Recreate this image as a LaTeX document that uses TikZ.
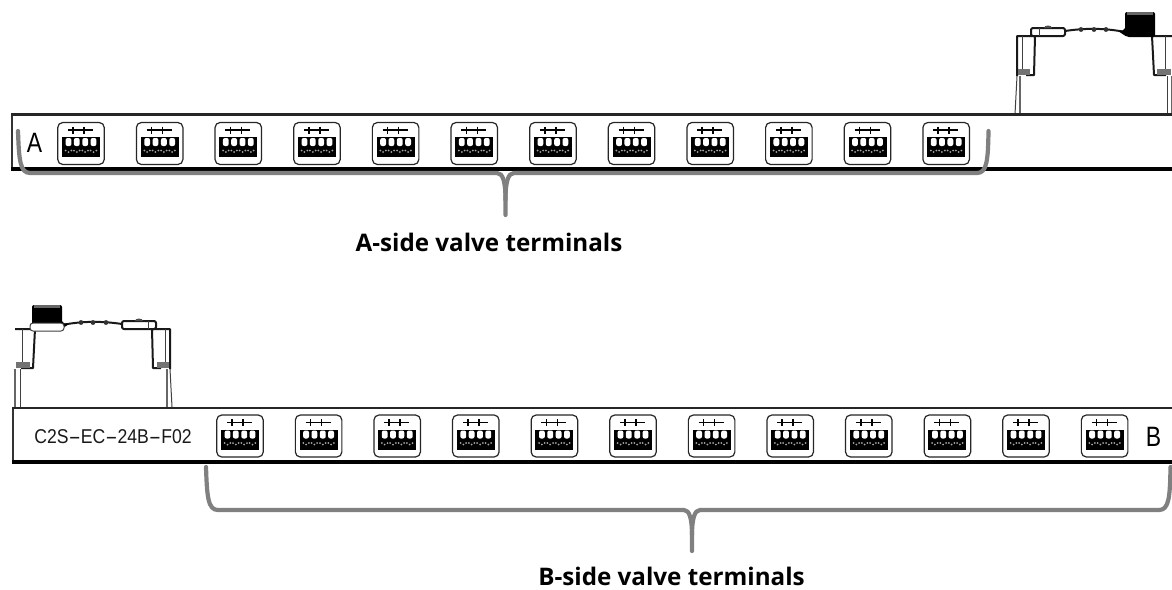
\documentclass[tikz,border=0pt]{standalone}
\usepackage{fontspec}
\setmainfont{Open Sans}
\newfontfamily\sidefont[FakeStretch=0.82]{Liberation Sans}
\newfontfamily\partfont[FakeStretch=0.88]{Liberation Sans}
\usetikzlibrary{positioning}
\definecolor{bracegray}{RGB}{128,128,128}
\newcommand{\longdash}{\scalebox{2.1}[1]{-}}
\tikzset{
    railline/.style = {line width=2.4pt, draw=black!85},
    railbase/.style = {line width=3.4pt, draw=black},
    railedge/.style = {line width=1.2pt, draw=black!80},
    termbox/.style = {draw=black!85, line width=1.2pt, rounded corners=5pt, fill=white, minimum width=46.5pt, minimum height=42pt, inner sep=0pt},
    brace/.style = {draw=bracegray, line width=4.2pt, line cap=round},
    sidetext/.style = {font=\fontsize{24.2}{29}\selectfont\bfseries, text=black, inner sep=0pt},
    railtext/.style = {font=\fontsize{28}{33}\selectfont\sidefont, text=black, inner sep=0pt},
    parttext/.style = {font=\fontsize{20}{24}\selectfont\partfont, text=black!90, inner sep=0pt},
    modline/.style = {draw=black!90, line width=2pt, line join=round},
    modthin/.style = {draw=black!75, line width=1pt},
    modgray/.style = {draw=black!60, line width=1.2pt},
    termglyph/.pic = {
        \draw[black, line width=1.5pt] (-13,-13.5) -- (12,-13.5);
        \draw[black, line width=1.5pt] (-8,-17) -- (-8,-10) (3,-17) -- (3,-10);
        \fill[black] (-19,-6.5) rectangle (19,13.5);
        \foreach \k in {-12.5,-4.2,4.2,12.5} {
            \fill[white, rounded corners=2pt] (\k-2.9,-5.5) rectangle (\k+2.9,2.5);
            \fill[white!65!black] (\k-2.8,7) circle (1pt) (\k,8.5) circle (1pt) (\k+2.8,7) circle (1pt);
        }
    },
    railmodule/.pic = {
        % feet
        \draw[modthin] (1015,114) -- (1017,76);
        \draw[modgray] (1020,114) -- (1020,76);
        \draw[modthin] (1167,114) -- (1167,76);
        \draw[modgray] (1172,114) -- (1172,76);
        % brackets
        \draw[modline] (1017,76) -- (1017,36) -- (1035,36) -- (1034,75) -- (1026,75);
        \draw[modthin] (1022,36) -- (1022,70);
        \draw[modline] (1172,36) -- (1152,36) -- (1154,75) -- (1166,75);
        \draw[modthin] (1165,36) -- (1165,70);
        \fill[black!55] (1018,69) rectangle (1030,75);
        \fill[black!55] (1157,69) rectangle (1171,75);
        % connector and cable
        \draw[modline, fill=white, rounded corners=2pt] (1031,28) rectangle (1065,36);
        \draw[modthin] (1039,28) -- (1039,36);
        \fill[black!70] (1044,28) arc (180:0:4pt and 2.5pt) -- cycle;
        \draw[modline] (1065,31) .. controls (1085,28) and (1105,28) .. (1125,32);
        \foreach \k in {1081,1094,1106} {
            \fill[black!80] (\k,29.5) circle (2.4pt);
        }
        % plug
        \fill[black, rounded corners=2pt] (1118,31) -- (1125,30) -- (1125,12) -- (1155,12) -- (1155,37) -- (1127,37) -- cycle;
        \fill[black!60] (1127,12) rectangle (1153,15);
    }
}
\begin{document}
\begin{tikzpicture}[x=1pt,y=-1pt]
\useasboundingbox (0,0) rectangle (1172,589);
\pic at (0,0) {railmodule};
\pic[xscale=-1] at (1187,293) {railmodule};
\draw[modthin, fill=white, rounded corners=3pt] (30,323) rectangle (64,331);
%
\draw[railedge] (12,114.5) -- (12,169);
\draw[railline] (11,114.5) -- (1172,114.5);
\draw[railbase] (11,169) -- (1172,169);
\draw[railedge] (13,408) -- (13,462);
\draw[railline] (12,408) -- (1172,408);
\draw[railbase] (12,462) -- (1172,462);
%
\foreach \i in {0,...,11} {
    \node[termbox] at ({81+78.65*\i},143.5) (ta\i) {};
    \pic at (ta\i) {termglyph};
    \node[termbox] at ({240+78.6*\i},436) (tb\i) {};
    \pic at (tb\i) {termglyph};
}
%
\node[railtext] at (34.5,142.5) (sidea) {A};
\node[railtext] at (1153.5,436.5) (sideb) {B};
\node[parttext] at (113,437) (partname) {C2S\longdash EC\longdash 24B\longdash F02};
%
\draw[brace] (18,131) .. controls (19,160) and (20,173) .. (30,173) -- (497,173)
    .. controls (503,173) and (505.5,182) .. (505.5,200) -- (505.5,215);
\draw[brace] (988.5,131) .. controls (988,160) and (987,173) .. (977,173) -- (514,173)
    .. controls (508,173) and (505.5,182) .. (505.5,200);
\draw[brace] (206,467) .. controls (207,497) and (208,510) .. (218,510) -- (684,510)
    .. controls (689.5,510) and (692,519) .. (692,535) -- (692,551);
\draw[brace] (1170.5,467) .. controls (1170,497) and (1169,510) .. (1159,510) -- (700,510)
    .. controls (694.5,510) and (692,519) .. (692,535);
%
\node[sidetext] at (489,242) (labela) {A-side valve terminals};
\node[sidetext] at (671.5,576) (labelb) {B-side valve terminals};
\end{tikzpicture}
\end{document}
